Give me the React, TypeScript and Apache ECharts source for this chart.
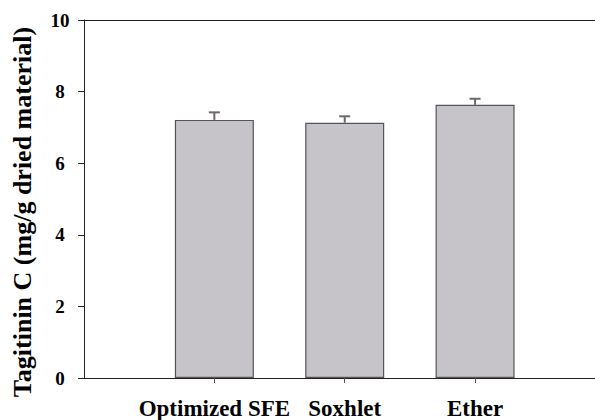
import React, { useEffect, useRef } from "react";
import * as echarts from "echarts";

// Extraction methods and their Tagitinin C yields (mg/g dried material)
const categories = ["Optimized SFE", "Soxhlet", "Ether"];
const positions = [1, 2, 3];
const means = [7.21, 7.13, 7.63];
const errors = [0.21, 0.18, 0.17];

const FONT = "Liberation Serif";

export default function App() {
  const ref = useRef<HTMLDivElement>(null);

  useEffect(() => {
    if (!ref.current) return;
    const chart = echarts.init(ref.current, undefined, { renderer: "svg" });

    const barData = positions.map((p, i) => [p, means[i]]);
    const errData = positions.map((p, i) => [p, means[i], errors[i]]);

    chart.setOption({
      animation: false,
      backgroundColor: "#ffffff",
      textStyle: { fontFamily: FONT },
      grid: { left: 84, right: 0, top: 20, bottom: 40, containLabel: false },
      xAxis: [
        {
          type: "value",
          min: 0,
          max: 3.92,
          position: "bottom",
          axisLine: { show: true, lineStyle: { color: "#222", width: 1 } },
          axisTick: {
            show: true,
            customValues: positions,
            length: 5,
            lineStyle: { color: "#555", width: 1 },
          },
          axisLabel: {
            show: true,
            customValues: positions,
            formatter: (v: number) => categories[positions.indexOf(Math.round(v))] ?? "",
            margin: 19,
            color: "#000",
            fontFamily: FONT,
            fontWeight: "bold",
            fontSize: 23,
          },
          splitLine: { show: false },
        },
        {
          type: "value",
          min: 0,
          max: 3.92,
          position: "top",
          axisLine: { show: true, lineStyle: { color: "#222", width: 1 } },
          axisTick: { show: false },
          axisLabel: { show: false },
          splitLine: { show: false },
        },
      ],
      yAxis: {
        type: "value",
        min: 0,
        max: 10,
        interval: 2,
        name: "Tagitinin C (mg/g dried material)",
        nameLocation: "middle",
        nameGap: 49,
        nameTextStyle: {
          color: "#000",
          fontFamily: FONT,
          fontWeight: "bold",
          fontSize: 26,
          padding: [0, 26, 0, 0],
        },
        axisLine: { show: true, lineStyle: { color: "#222", width: 1 } },
        axisTick: { show: true, inside: false, length: 6, lineStyle: { color: "#222", width: 1 } },
        axisLabel: {
          margin: 24,
          align: "center",
          color: "#000",
          fontFamily: FONT,
          fontWeight: "bold",
          fontSize: 19,
        },
        splitLine: { show: false },
      },
      series: [
        {
          type: "bar",
          data: barData,
          barWidth: 79,
          itemStyle: {
            color: "#c6c4c8",
            borderColor: "#555",
            borderWidth: 1.2,
          },
          z: 2,
        },
        {
          type: "custom",
          data: errData,
          z: 3,
          renderItem: (_params: any, api: any) => {
            const base = api.coord([api.value(0), api.value(1)]);
            const top = api.coord([api.value(0), api.value(1) + api.value(2)]);
            const style = { stroke: "#6a6a6a", lineWidth: 2 };
            return {
              type: "group",
              children: [
                { type: "line", shape: { x1: base[0], y1: base[1], x2: base[0], y2: top[1] }, style },
                { type: "line", shape: { x1: base[0] - 5.5, y1: top[1], x2: base[0] + 5.5, y2: top[1] }, style },
              ],
            };
          },
        },
      ],
    });

    return () => chart.dispose();
  }, []);

  return (
    <div
      ref={ref}
      style={{ position: "absolute", left: 0, top: 0, width: 595, height: 420 }}
    />
  );
}
